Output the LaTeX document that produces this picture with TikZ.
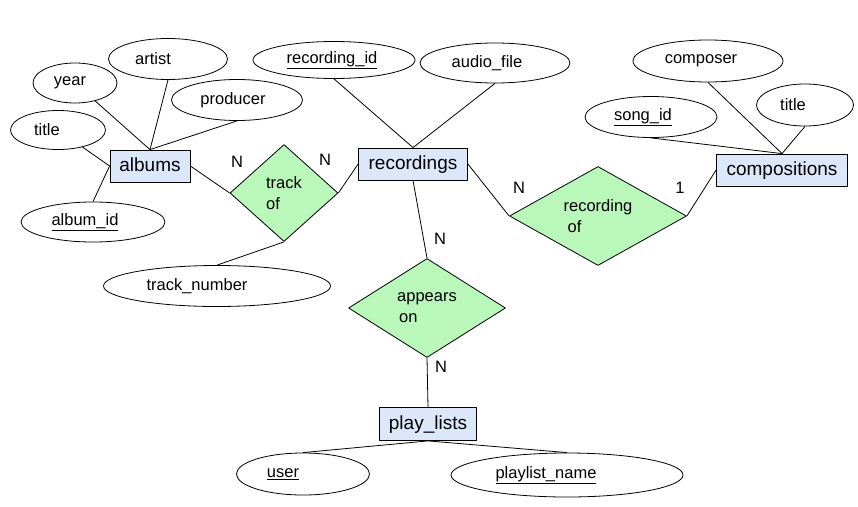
\documentclass[tikz,border=0pt]{standalone}
\usepackage{fontspec}
\setmainfont{Liberation Sans}
\usetikzlibrary{shapes.geometric}
\definecolor{entblue}{RGB}{220,231,250}
\definecolor{relgreen}{RGB}{186,247,186}
\newcommand\offtxt[2]{\hspace*{#1}#2\hspace*{-#1}}% text moved sideways inside its node
\tikzset{
	entity/.style={draw,fill=entblue,minimum height=32pt,inner sep=0pt,text depth=4pt,text height=14pt,font=\fontsize{19}{22}\selectfont},
	attr/.style={draw,ellipse,inner sep=0pt,minimum height=41pt,font=\fontsize{16.5}{20}\selectfont},
	rel/.style={draw,diamond,fill=relgreen,inner sep=0pt,align=left,font=\fontsize{16.5}{21}\selectfont},
	card/.style={font=\fontsize{16.5}{20}\selectfont}
}
\begin{document}
\begin{tikzpicture}[x=1pt,y=-1pt,line join=round,line width=0.8pt]
	\useasboundingbox (0,0) rectangle (858,506);
	
	% entities
	\node[entity,minimum width=80pt] (albums) at (150,166) {albums};
	\node[entity,minimum width=109pt] (recordings) at (413,164) {recordings};
	\node[entity,minimum width=131pt] (compositions) at (782,170) {compositions};
	\node[entity,minimum width=97pt,minimum height=33pt] (playlists) at (428,424) {play\_lists};
	
	% relationships
	\node[rel,minimum width=108pt,minimum height=97pt,aspect=1.1] (trackof) at (284,193) {track\\of};
	\node[rel,minimum width=177pt,minimum height=99pt,aspect=1.8] (recof) at (598,216) {recording\\\hspace{4pt}of};
	\node[rel,minimum width=157pt,minimum height=99pt,aspect=1.6] (appears) at (427,308) {appears\\\hspace{2pt}on};
	
	% attributes of albums
	\node[attr,minimum width=119pt] (artist) at (168,59) {\offtxt{-15pt}{artist}};
	\node[attr,minimum width=84pt,minimum height=40pt] (year) at (75,83) {\offtxt{-5pt}{year}};
	\node[attr,minimum width=131pt] (producer) at (237,100) {\offtxt{-4pt}{producer}};
	\node[attr,minimum width=95pt,minimum height=39pt] (atitle) at (58,130) {\offtxt{-11pt}{title}};
	\node[attr,minimum width=144pt,minimum height=40pt] (albumid) at (93,222) {\offtxt{-8pt}{\underline{album\_id}}};
	
	% attributes of recordings
	\node[attr,minimum width=162pt,minimum height=37pt] (recid) at (334,60) {\offtxt{-2pt}{\underline{recording\_id}}};
	\node[attr,minimum width=150pt,minimum height=40pt] (audio) at (495,63) {\offtxt{-8pt}{audio\_file}};
	\node[attr,minimum width=227pt] (tracknum) at (217,286) {\offtxt{-20pt}{track\_number}};
	
	% attributes of compositions
	\node[attr,minimum width=150pt,minimum height=42pt] (composer) at (708,61) {\offtxt{-7pt}{composer}};
	\node[attr,minimum width=97pt,minimum height=42pt] (ctitle) at (805,105) {\offtxt{-12pt}{title}};
	\node[attr,minimum width=132pt] (songid) at (651,117) {\offtxt{-8pt}{\underline{song\_id}}};
	
	% attributes of play_lists
	\node[attr,minimum width=133pt,minimum height=42pt] (user) at (303,474) {\offtxt{-20pt}{\underline{user}}};
	\node[attr,minimum width=232pt,minimum height=44pt] (plname) at (567,475) {\offtxt{-21pt}{\underline{playlist\_name}}};
	
	% attribute lines
	\draw (year) -- (albums.north);
	\draw (artist.south) -- (albums.north);
	\draw (producer.south) -- (albums.north);
	\draw (atitle) -- (albums.west);
	\draw (albumid.north) -- (albums.west);
	\draw (recid.south) -- (recordings.north);
	\draw (audio.south) -- (recordings.north);
	\draw (trackof.south) -- (tracknum.north);
	\draw (songid.south) -- (compositions.north);
	\draw (composer.south) -- (compositions.north);
	\draw (ctitle.south) -- (compositions.north);
	\draw (playlists.south) -- (user.north);
	\draw (playlists.south) -- (plname.north);
	
	% relationship lines
	\draw (albums.east) -- (trackof.west);
	\draw (trackof.east) -- (recordings.west);
	\draw (recordings.east) -- (recof.west);
	\draw (recof.east) -- (compositions.west);
	\draw (recordings.south) -- (appears.north);
	\draw (appears.south) -- (playlists.north);
	
	% cardinalities
	\node[card] (c1) at (237,162) {N};
	\node[card] (c2) at (325,160) {N};
	\node[card] (c3) at (519,188) {N};
	\node[card] (c4) at (680,188) {1};
	\node[card] (c5) at (440,239) {N};
	\node[card] (c6) at (441,367) {N};
\end{tikzpicture}
\end{document}
